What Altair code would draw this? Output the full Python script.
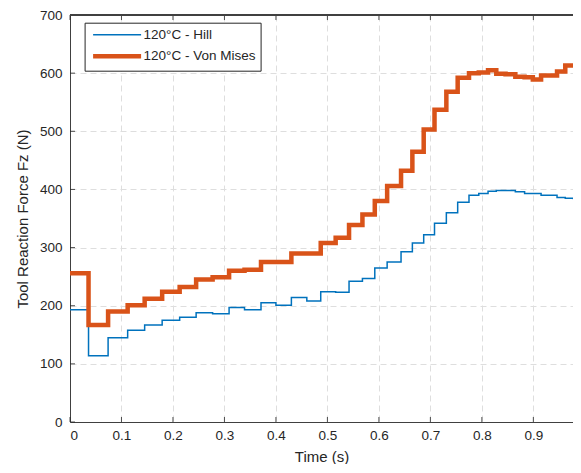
import altair as alt
import pandas as pd

# Step boundaries (s) shared by both series
t_edges = [0, 0.036, 0.074, 0.112, 0.145, 0.179, 0.213, 0.245, 0.277, 0.309,
           0.339, 0.371, 0.400, 0.430, 0.460, 0.487, 0.516, 0.542, 0.568, 0.592,
           0.616, 0.643, 0.665, 0.687, 0.708, 0.731, 0.753, 0.775, 0.794, 0.812,
           0.828, 0.846, 0.865, 0.883, 0.899, 0.915, 0.930, 0.946, 0.962, 0.978]
t_end = 0.995

hill_vals = [193, 114, 145, 158, 167, 175, 180, 188, 186, 197,
             193, 205, 201, 214, 208, 224, 223, 242, 247, 265,
             275, 293, 308, 322, 342, 360, 378, 390, 393, 397,
             398, 398, 396, 393, 393, 390, 390, 386, 385, 384]

vm_vals = [256, 167, 190, 201, 212, 224, 232, 245, 249, 260,
           262, 275, 275, 290, 290, 308, 317, 339, 357, 380,
           406, 432, 465, 503, 537, 568, 592, 600, 601, 605,
           599, 598, 594, 593, 589, 596, 596, 603, 613, 613]

series_names = ["120°C - Hill", "120°C - Von Mises"]
series_colors = ["#0072BD", "#D95319"]
series_widths = [1.5, 4.5]

x_ticks = [0, 0.1, 0.2, 0.3, 0.4, 0.5, 0.6, 0.7, 0.8, 0.9]
y_ticks = [0, 100, 200, 300, 400, 500, 600, 700]

rows = []
for name, vals in zip(series_names, [hill_vals, vm_vals]):
    for t, v in zip(t_edges, vals):
        rows.append({"t": t, "F": v, "series": name})
    rows.append({"t": t_end, "F": vals[-1], "series": name})
df = pd.DataFrame(rows)

W, H = 503, 407
FONT = "Liberation Sans"
XDOM = [0, 0.977]
YDOM = [0, 700]

xscale = alt.Scale(domain=XDOM, nice=False, zero=False)
yscale = alt.Scale(domain=YDOM, nice=False)

leg = alt.Legend(title=None, orient="none", legendX=14.6, legendY=7.7,
                 fillColor="white", strokeColor="#262626",
                 padding=5, symbolType="M-4,0H4", symbolSize=144,
                 symbolOffset=19, labelOffset=18, rowPadding=5,
                 labelFontSize=13.5, labelFont=FONT, labelColor="#262626",
                 cornerRadius=0)

lines = alt.Chart(df).mark_line(interpolate="step-after", clip=True).encode(
    x=alt.X("t:Q", scale=xscale,
            axis=alt.Axis(title="Time (s)", values=x_ticks, format="~g",
                          grid=True, gridDash=[6, 4], gridColor="#dedede",
                          tickSize=0, labelPadding=6, titlePadding=8)),
    y=alt.Y("F:Q", scale=yscale,
            axis=alt.Axis(title="Tool Reaction Force Fz (N)", values=y_ticks,
                          grid=True, gridDash=[6, 4], gridColor="#dedede",
                          tickSize=0, labelPadding=8, titlePadding=9)),
    color=alt.Color("series:N", scale=alt.Scale(domain=series_names, range=series_colors),
                    legend=leg),
    strokeWidth=alt.StrokeWidth("series:N", scale=alt.Scale(domain=series_names, range=series_widths),
                                legend=leg),
)

tick_x = pd.DataFrame({"t": x_ticks})
tick_y = pd.DataFrame({"F": y_ticks})

xt_bottom = alt.Chart(tick_x).mark_rule(color="#262626", strokeWidth=0.8).encode(
    x=alt.X("t:Q", scale=xscale), y=alt.value(H), y2=alt.value(H - 5))
xt_top = alt.Chart(tick_x).mark_rule(color="#262626", strokeWidth=0.8).encode(
    x=alt.X("t:Q", scale=xscale), y=alt.value(0), y2=alt.value(5))
yt_left = alt.Chart(tick_y).mark_rule(color="#262626", strokeWidth=0.8).encode(
    y=alt.Y("F:Q", scale=yscale), x=alt.value(0), x2=alt.value(5))
top_border = alt.Chart(tick_y).mark_rule(color="#404040", strokeWidth=1).encode(
    x=alt.value(0), x2=alt.value(W), y=alt.value(0))

chart = alt.layer(lines, xt_bottom, xt_top, yt_left, top_border).properties(
    width=W, height=H, background="white",
    padding={"left": 62, "top": 7, "right": 0, "bottom": 42},
    autosize=alt.AutoSizeParams(type="none"),
).configure_view(stroke=None).configure_axis(
    labelFont=FONT, titleFont=FONT, labelFontSize=13.5, titleFontSize=15,
    labelColor="#262626", titleColor="#262626", titleFontWeight="normal",
    domainColor="#404040", domainWidth=1,
)

chart.save("out.html", embed_options={"renderer": "svg", "actions": False})
